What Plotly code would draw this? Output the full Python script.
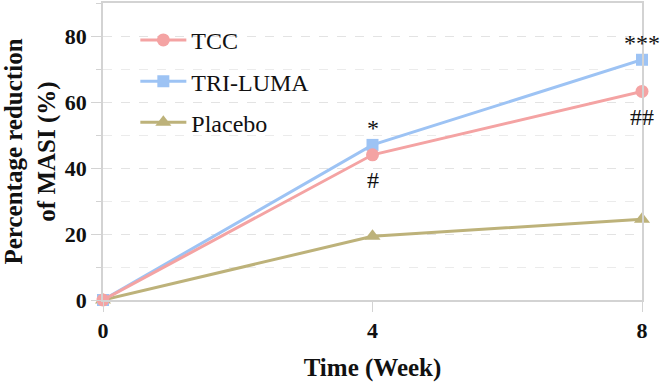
import plotly.graph_objects as go

weeks = [0, 4, 8]
tcc = [0, 44.0, 63.2]
triluma = [0, 47.0, 72.8]
placebo = [0, 19.3, 24.5]

tick_x = [0, 4, 8]
tick_y = [0, 20, 40, 60, 80]

ann_text = ["*", "#", "***", "##"]
ann_x = [4, 4, 8, 8]
ann_y = [52, 36.5, 78, 55.5]

serif = "Liberation Serif"
fig = go.Figure()
fig.add_trace(go.Scatter(x=weeks, y=placebo, name="Placebo", mode="lines+markers",
                         line=dict(color="#BDB27A", width=3),
                         marker=dict(symbol="triangle-up", size=14, color="#BDB27A"),
                         legendrank=3, legendgroup="c", cliponaxis=False))
fig.add_trace(go.Scatter(x=weeks, y=triluma, name="TRI-LUMA", mode="lines+markers",
                         line=dict(color="#9DC3F4", width=3),
                         marker=dict(symbol="square", size=12, color="#9DC3F4"),
                         legendrank=2, legendgroup="b", cliponaxis=False))
fig.add_trace(go.Scatter(x=weeks, y=tcc, name="TCC", mode="lines+markers",
                         line=dict(color="#F4A3A3", width=3),
                         marker=dict(symbol="circle", size=13, color="#F4A3A3"),
                         legendrank=1, legendgroup="a", cliponaxis=False))

for t, x, y in zip(ann_text, ann_x, ann_y):
    fig.add_annotation(x=x, y=y, text=t, showarrow=False,
                       font=dict(family=serif, size=24, color="#111"))

fig.update_layout(
    width=661, height=382,
    margin=dict(l=103, r=19, t=3, b=82, autoexpand=False),
    paper_bgcolor="white", plot_bgcolor="white",
    font=dict(family=serif, color="#111"),
    legend=dict(x=0.06, y=0.95, xanchor="left", yanchor="top",
                font=dict(family=serif, size=24, color="#111"),
                bgcolor="rgba(0,0,0,0)", itemwidth=46, tracegroupgap=7),
    showlegend=True,
)
fig.update_xaxes(
    range=[0, 8], tickvals=tick_x, ticktext=[str(v) for v in tick_x],
    showgrid=False, zeroline=False,
    showline=True, linecolor="#D3D3D3", linewidth=1.5, mirror=True,
    ticks="outside", ticklen=10, tickcolor="#D3D3D3",
    tickfont=dict(family=serif, size=22, color="#111", weight="bold"),
    title=dict(text="<b>Time (Week)</b>", font=dict(family=serif, size=25, color="#111"), standoff=17),
)
fig.update_yaxes(
    range=[0, 90], tickvals=tick_y, ticktext=[str(v) for v in tick_y],
    showgrid=True, gridcolor="#E3E3E3", griddash="dash", gridwidth=1,
    zeroline=False,
    showline=True, linecolor="#D3D3D3", linewidth=1.5, mirror=True,
    ticks="outside", ticklen=10, tickcolor="#D3D3D3",
    minor=dict(dtick=10, tick0=0, showgrid=True, gridcolor="#EBEBEB", griddash="dash",
               ticks="outside", ticklen=5, tickcolor="#D3D3D3"),
    tickfont=dict(family=serif, size=22, color="#111", weight="bold"),
    title=dict(text="<b>Percentage reduction<br>of MASI (%)</b>",
               font=dict(family=serif, size=25, color="#111"), standoff=6),
)
fig.write_html("out.html", config={"displayModeBar": False},
               post_script="document.body.style.margin='0';")
